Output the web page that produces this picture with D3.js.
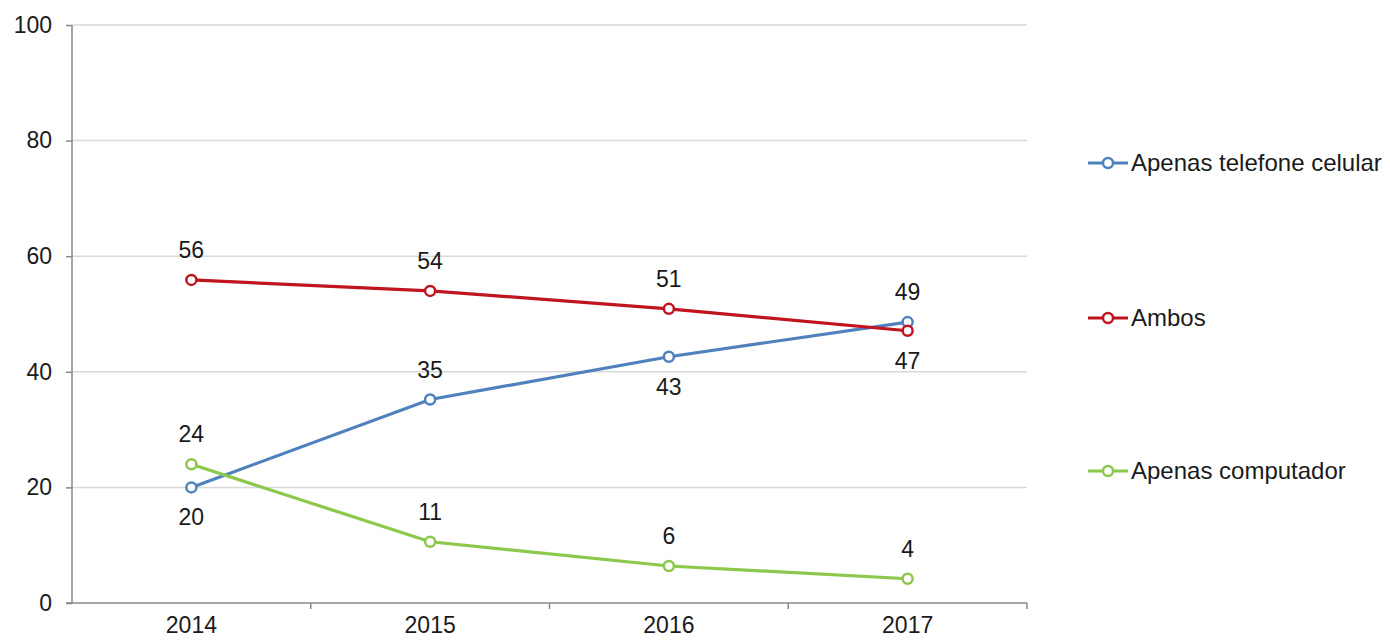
<html>
<head>
<style>
  body { margin: 0; background: #fff; }
  text { font-family: "Liberation Sans", Arial, sans-serif; fill: #1a1a1a; }
  .grid line { stroke: #d9d9d9; stroke-width: 1.5px; }
  .axis path, .axis line { stroke: #888; stroke-width: 1.5px; }
  .series { fill: none; stroke-width: 3.2px; }
</style>
</head>
<body>
<svg width="1390" height="642"></svg>

<script src="https://cdn.jsdelivr.net/npm/d3@7"></script>
<script>

var years = ["2014", "2015", "2016", "2017"];
var yTicks = [0, 20, 40, 60, 80, 100];

var celular = [20, 35.2, 42.6, 48.6];
var ambos = [55.9, 54, 50.9, 47.1];
var computador = [24, 10.6, 6.4, 4.2];

var celularLabels = ["20", "35", "43", "49"];
var ambosLabels = ["56", "54", "51", "47"];
var computadorLabels = ["24", "11", "6", "4"];

// label above (-1) or below (1) the point
var celularPos = [1, -1, 1, -1];
var ambosPos = [-1, -1, -1, 1];
var computadorPos = [-1, -1, -1, -1];

var series = [
  {name: "Apenas telefone celular", values: celular, labels: celularLabels, pos: celularPos, color: "#4f81bd"},
  {name: "Ambos", values: ambos, labels: ambosLabels, pos: ambosPos, color: "#c0141f"},
  {name: "Apenas computador", values: computador, labels: computadorLabels, pos: computadorPos, color: "#8cc84b"}
];

var svg = d3.select("svg"),
    margin = {top: 25, left: 72, right: 363, bottom: 39},
    width = +svg.attr("width") - margin.left - margin.right,
    height = +svg.attr("height") - margin.top - margin.bottom,
    g = svg.append("g").attr("transform", "translate(" + margin.left + "," + margin.top + ")");

var x = d3.scaleBand()
    .domain(years)
    .range([0, width]);

var y = d3.scaleLinear()
    .domain([0, 100])
    .range([height, 0]);

// gridlines
g.append("g")
    .attr("class", "grid")
  .selectAll("line")
  .data(yTicks.filter(function(d) { return d > 0; }))
  .enter().append("line")
    .attr("x1", 0)
    .attr("x2", width)
    .attr("y1", function(d) { return y(d); })
    .attr("y2", function(d) { return y(d); });

// y axis
var yAxis = g.append("g")
    .attr("class", "axis")
    .call(d3.axisLeft(y).tickValues(yTicks).tickSize(6).tickSizeOuter(0).tickPadding(14));
yAxis.select(".domain").attr("d", "M0," + y(100) + "V" + y(0));
yAxis.selectAll("text").style("font-size", "23px").attr("fill", "#1a1a1a");

// x axis, ticks at category boundaries
var xAxis = g.append("g")
    .attr("class", "axis")
    .attr("transform", "translate(0," + height + ")")
    .call(d3.axisBottom(x).tickSize(0).tickPadding(14));
xAxis.select(".domain").attr("d", "M-6,0H" + width);
xAxis.selectAll("text").style("font-size", "23px").attr("fill", "#1a1a1a");
xAxis.selectAll(".bound")
  .data(years.slice(1).concat(["end"]))
  .enter().append("line")
    .attr("class", "bound")
    .attr("x1", function(d, i) { return x.step() * (i + 1); })
    .attr("x2", function(d, i) { return x.step() * (i + 1); })
    .attr("y1", 0)
    .attr("y2", 6);

var line = d3.line()
    .x(function(d, i) { return x(years[i]) + x.bandwidth() / 2; })
    .y(function(d) { return y(d); });

series.forEach(function(s) {
  var sg = g.append("g");
  sg.append("path")
      .datum(s.values)
      .attr("class", "series")
      .attr("stroke", s.color)
      .attr("d", line);

  sg.selectAll("circle")
    .data(s.values)
    .enter().append("circle")
      .attr("cx", function(d, i) { return x(years[i]) + x.bandwidth() / 2; })
      .attr("cy", function(d) { return y(d); })
      .attr("r", 5)
      .attr("fill", "#fff")
      .attr("stroke", s.color)
      .attr("stroke-width", 2.5);

  sg.selectAll("text")
    .data(s.values)
    .enter().append("text")
      .attr("x", function(d, i) { return x(years[i]) + x.bandwidth() / 2; })
      .attr("y", function(d, i) { return y(d) + s.pos[i] * 30; })
      .attr("dy", "0.35em")
      .attr("text-anchor", "middle")
      .style("font-size", "23px")
      .text(function(d, i) { return s.labels[i]; });
});

// legend
var legendY = [163, 318, 471];
var legend = svg.append("g")
  .selectAll("g")
  .data(series)
  .enter().append("g")
    .attr("transform", function(d, i) { return "translate(1088," + legendY[i] + ")"; });

legend.append("line")
    .attr("x1", 0).attr("x2", 40)
    .attr("stroke", function(d) { return d.color; })
    .attr("stroke-width", 3.2);
legend.append("circle")
    .attr("cx", 20)
    .attr("r", 5)
    .attr("fill", "#fff")
    .attr("stroke", function(d) { return d.color; })
    .attr("stroke-width", 2.5);
legend.append("text")
    .attr("x", 43)
    .attr("dy", "0.35em")
    .style("font-size", "24px")
    .text(function(d) { return d.name; });

</script>
</body>
</html>
